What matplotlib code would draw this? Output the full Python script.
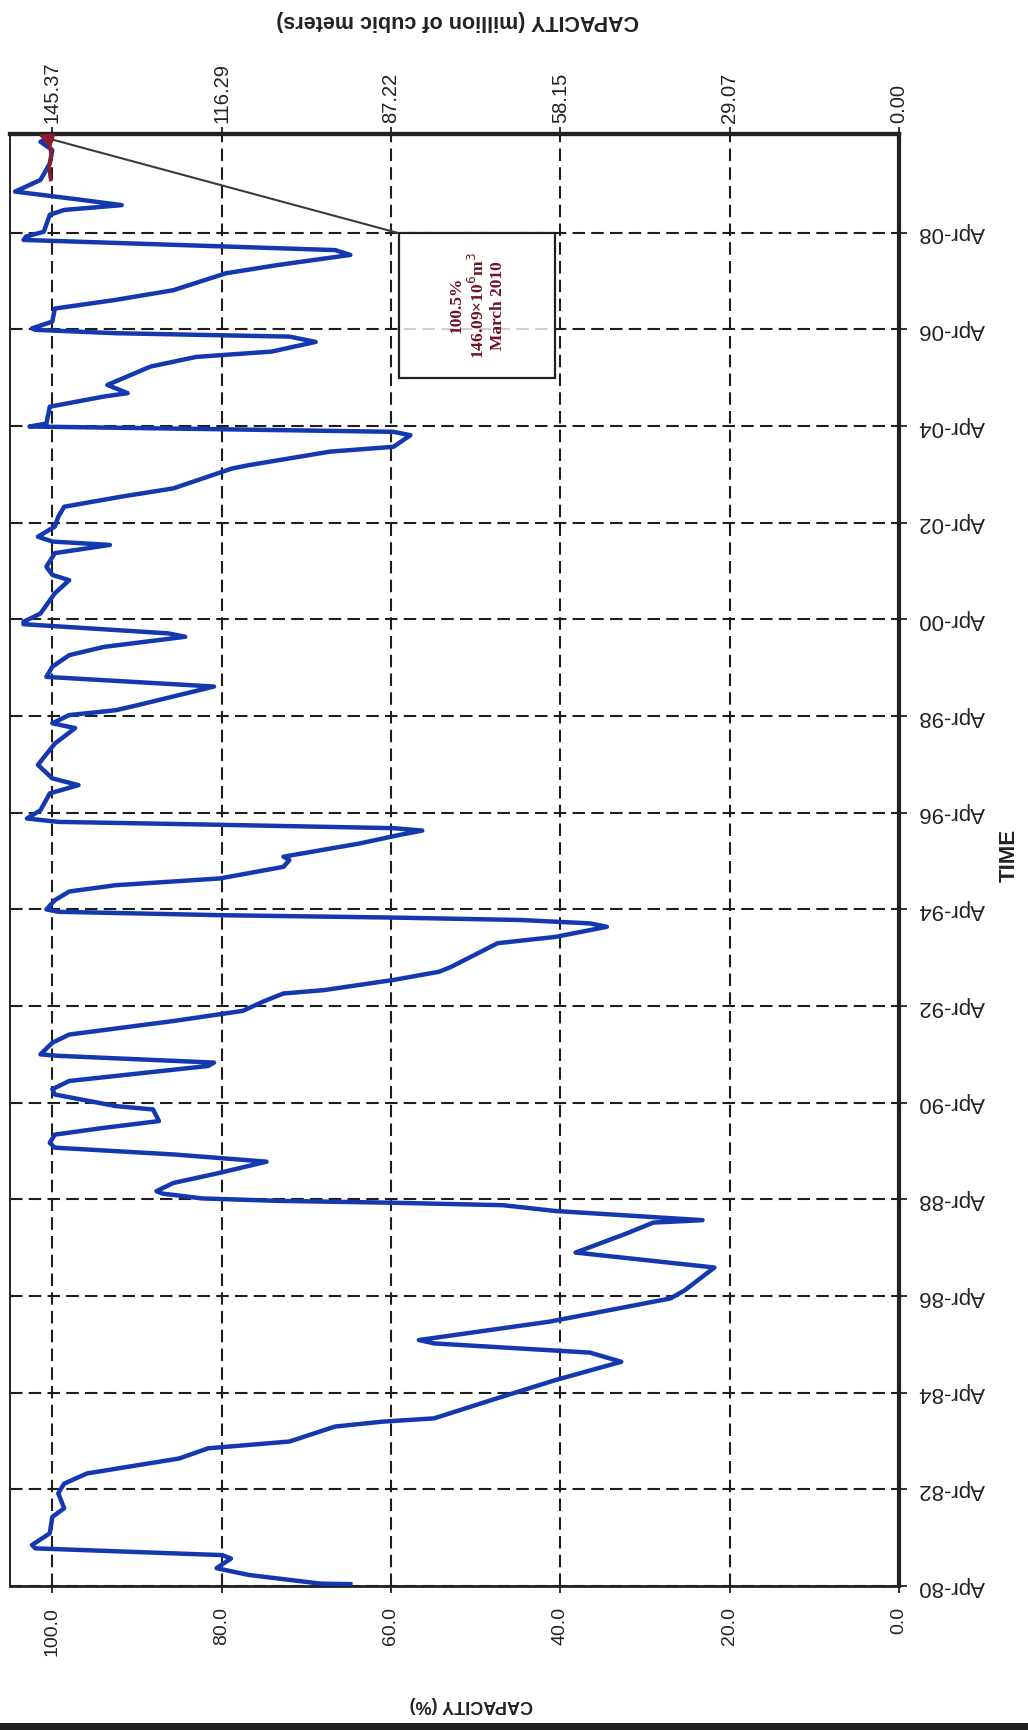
import matplotlib
matplotlib.use("Agg")
import matplotlib.pyplot as plt
from matplotlib.patches import Rectangle

plt.rcParams['font.family'] = ['Liberation Sans', 'DejaVu Sans']

# reservoir storage, decimal year vs. percent of capacity
years = [1980.29, 1980.30, 1980.48, 1980.62, 1980.82, 1980.89, 1981.03, 1981.10,
         1981.34, 1981.68, 1981.86, 1982.17, 1982.37, 1982.58, 1982.89, 1983.10,
         1983.24, 1983.55, 1983.65, 1983.72, 1984.10, 1984.51, 1984.89, 1985.08,
         1985.27, 1985.34, 1985.72, 1986.20, 1986.37, 1986.84, 1987.15, 1987.53,
         1987.77, 1987.82, 1988.01, 1988.13, 1988.18, 1988.22, 1988.27, 1988.37,
         1988.42, 1988.59, 1988.80, 1989.03, 1989.18, 1989.32, 1989.42, 1989.59,
         1989.73, 1989.87, 1990.11, 1990.18, 1990.42, 1990.53, 1990.70, 1991.01,
         1991.08, 1991.22, 1991.25, 1991.49, 1991.66, 1991.94, 1992.08, 1992.15,
         1992.35, 1992.51, 1992.58, 1992.79, 1992.96, 1993.06, 1993.55, 1993.68,
         1993.89, 1993.96, 1994.03, 1994.08, 1994.13, 1994.20, 1994.25, 1994.44,
         1994.62, 1994.75, 1994.89, 1995.13, 1995.27, 1995.34, 1995.61, 1995.79,
         1995.88, 1995.93, 1996.00, 1996.06, 1996.13, 1996.30, 1996.65, 1996.82,
         1996.96, 1997.24, 1997.68, 1998.00, 1998.10, 1998.27, 1998.37, 1998.48,
         1998.86, 1999.06, 1999.27, 1999.51, 1999.68, 1999.89, 1999.96, 2000.15,
         2000.20, 2000.37, 2000.79, 2001.06, 2001.17, 2001.34, 2001.62, 2001.79,
         2001.86, 2001.96, 2002.17, 2002.37, 2002.58, 2002.79, 2002.96, 2003.37,
         2003.44, 2003.72, 2003.82, 2004.06, 2004.13, 2004.18, 2004.24, 2004.30,
         2004.65, 2004.86, 2004.93, 2005.10, 2005.48, 2005.68, 2005.79, 2005.99,
         2006.10, 2006.17, 2006.24, 2006.27, 2006.41, 2006.68, 2006.86, 2007.06,
         2007.41, 2007.58, 2007.79, 2007.89, 2007.96, 2008.10, 2008.17, 2008.27,
         2008.62, 2008.72, 2008.82, 2008.93, 2009.10, 2009.34, 2009.68, 2009.96,
         2010.13, 2010.20]
capacity = [64.8, 68.3, 76.8, 80.6, 78.9, 79.9, 102.0, 102.4,
            100.3, 100.0, 98.6, 99.3, 98.6, 95.9, 85.0, 81.6,
            72.0, 66.6, 61.1, 54.9, 48.1, 40.6, 32.8, 36.5,
            54.9, 56.7, 41.3, 27.0, 25.3, 21.8, 38.2, 32.4,
            29.0, 23.2, 40.6, 46.8, 59.7, 73.4, 82.3, 87.0,
            87.7, 85.7, 80.2, 74.7, 85.7, 99.7, 100.3, 99.7,
            93.9, 87.4, 88.1, 92.5, 99.7, 100.0, 98.0, 81.6,
            80.9, 99.3, 101.4, 100.0, 98.0, 85.7, 80.2, 77.5,
            75.0, 72.7, 67.9, 59.7, 54.3, 52.9, 47.4, 40.6,
            34.5, 36.5, 44.7, 59.7, 80.2, 99.3, 100.7, 99.7,
            98.0, 92.5, 80.2, 72.7, 72.0, 72.7, 63.8, 59.0,
            56.3, 59.7, 80.2, 99.3, 103.0, 101.4, 100.3, 96.9,
            100.0, 101.7, 99.7, 97.3, 100.0, 98.0, 92.5, 89.8,
            80.9, 100.7, 100.0, 98.0, 93.9, 84.3, 86.3, 103.4,
            103.4, 101.4, 99.7, 98.0, 100.0, 100.7, 99.7, 93.2,
            100.0, 101.7, 99.7, 99.3, 98.6, 91.8, 85.7, 78.8,
            76.8, 67.2, 59.7, 57.7, 59.7, 78.8, 102.7, 100.7,
            100.3, 93.9, 91.1, 93.5, 88.4, 83.0, 74.1, 68.9,
            72.0, 92.5, 102.0, 102.4, 100.0, 99.7, 92.5, 85.7,
            79.5, 73.4, 64.8, 66.6, 78.8, 103.4, 103.1, 101.0,
            100.3, 98.6, 91.8, 96.6, 104.4, 101.4, 100.3, 100.0,
            101.4, 100.7]

# latest monthly readings
recent_years = [2009.35, 2009.60, 2009.85, 2010.05, 2010.20]
recent_capacity = [100.2, 100.4, 100.1, 100.3, 100.5]
last_point = (100.5, 2010.20)
last_label = "100.5%\n146.09\u00d710$^6$m$^3$\nMarch 2010"

pct_ticks = [100.0, 80.0, 60.0, 40.0, 20.0, 0.0]
mcm_ticks = [145.37, 116.29, 87.22, 58.15, 29.07, 0.00]
time_ticks = [1980.25 + 2 * k for k in range(15)]
time_labels = ["Apr-%02d" % ((80 + 2 * k) % 100) for k in range(15)]

fig = plt.figure(figsize=(10.28, 17.30), dpi=100)
ax = fig.add_axes([0.0097, 0.0832, 0.8648, 0.8393])

ax.plot(capacity, years, color='#1438b0', lw=3.2, solid_joinstyle='round', zorder=3)
ax.plot(recent_capacity, recent_years, color='#8b1c2c', lw=2.6, zorder=4)

ax.set_xlim(105, 0)
ax.set_ylim(1980.25, 2010.29)

ax.set_xticks(pct_ticks, labels=["%.1f" % v for v in pct_ticks])
ax.set_yticks(time_ticks, labels=time_labels)
ax.yaxis.tick_right()
ax.grid(True, color='#1e1e1e', lw=1.5, linestyle=(0, (6, 3)))
ax.set_axisbelow(True)

ax.tick_params(axis='x', direction='inout', length=10, width=1.3, pad=10,
               labelsize=14, labelrotation=90, colors='#222222')
ax.tick_params(axis='y', direction='inout', length=12, width=1.3, pad=8,
               labelsize=16, labelrotation=180, colors='#222222')
for lbl in ax.get_yticklabels():
    lbl.set_va('center')

for side, w in [('left', 1.4), ('bottom', 2.0), ('top', 3.0), ('right', 3.0)]:
    ax.spines[side].set_linewidth(w)
    ax.spines[side].set_color('#222222')

# volume scale in million cubic meters along the top
sec = ax.secondary_xaxis('top', functions=(lambda p: p * 1.4537, lambda v: v / 1.4537))
sec.set_xticks(mcm_ticks, labels=["%.2f" % v for v in mcm_ticks])
sec.tick_params(direction='inout', length=10, width=1.3, pad=3, labelsize=14.5,
                labelrotation=90, colors='#222222')
sec.spines['top'].set_linewidth(3.0)

# callout for the last reading
ax.add_patch(Rectangle((40.6, 2005.24), 18.4, 3.01, facecolor=(1, 1, 1, 0.8),
                       edgecolor='#222222', lw=1.6, zorder=5))
ax.text(49.8, 2006.75, last_label, rotation=90, ha='center', va='center',
        fontsize=12.5, fontweight='bold', color='#6e1423', linespacing=1.2,
        family=['Liberation Serif', 'DejaVu Serif'], zorder=6)
ax.plot([59.3, last_point[0]], [2008.25, last_point[1]], color='#3a3a3a', lw=1.5, zorder=5)
ax.plot(last_point[0], last_point[1], marker=(3, 0, 70), ms=13, color='#8b1c2c', zorder=6)

fig.text(0.4455, 1 - 20 / 1730, "CAPACITY (million of cubic meters)", rotation=180,
         ha='center', va='center', fontsize=15.5, fontweight='bold', color='#222222')
fig.text(0.458, 1 - 1704 / 1730, "CAPACITY (%)", rotation=180,
         ha='center', va='center', fontsize=13, fontweight='bold', color='#222222')
fig.text(1009 / 1028, 1 - 855 / 1730, "TIME", rotation=90,
         ha='center', va='center', fontsize=16, fontweight='bold', color='#222222')

# dark strip along the lower edge
fig.patches.append(Rectangle((0, 0), 1, 7 / 1730, transform=fig.transFigure,
                             facecolor='#1e1e1e', edgecolor='none'))

fig.savefig("out.png", dpi=100)
